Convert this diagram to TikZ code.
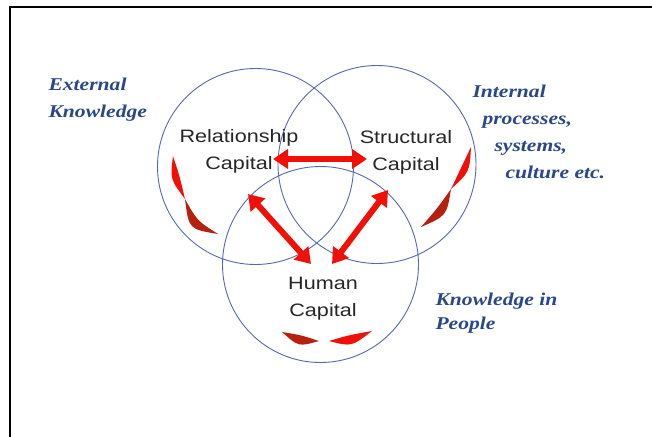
\documentclass[tikz,border=0pt]{standalone}
\usepackage{fontspec}
\usetikzlibrary{arrows.meta}
\newfontfamily\capfont[FakeStretch=1.2]{Liberation Sans}
\newfontfamily\notefont[FakeStretch=1.2]{Liberation Serif}
\definecolor{ringblue}{RGB}{86,104,176}
\definecolor{noteblue}{RGB}{40,72,138}
\definecolor{linkred}{RGB}{240,16,8}
\definecolor{swooshdark}{RGB}{182,32,14}
\begin{document}
\begin{tikzpicture}[x=1pt,y=-1pt,
capitalring/.style={draw=ringblue,line width=0.9pt},
capitallabel/.style={align=center,font=\capfont\fontsize{18}{27}\selectfont,text=black!85},
knowledgelabel/.style={anchor=west,align=left,font=\notefont\bfseries\itshape\fontsize{18}{27}\selectfont,text=noteblue},
linkarrow/.style={draw=linkred,line width=6pt,{Triangle[length=15pt,width=19pt]}-{Triangle[length=15pt,width=19pt]}},
swooshred/.style={fill=linkred},
swooshdark/.style={fill=swooshdark}]
\useasboundingbox (0,0) rectangle (652,436);
\draw[line width=2.5pt] (10,440) -- (10,7) -- (655,7);
\draw[capitalring] (255.5,166.5) circle[radius=98];
\draw[capitalring] (377,164.5) circle[radius=99];
\draw[capitalring] (320.5,264.5) circle[radius=98];
\node (relationship) at (239,151) [capitallabel] {Relationship\\Capital};
\node (structural) at (406,152) [capitallabel] {Structural\\Capital};
\node (human) at (323,299) [capitallabel] {Human\\Capital};
\node (external) at (45,100) [knowledgelabel] {External\\Knowledge};
\node (internal) at (469,132) [knowledgelabel] {Internal\\\hspace*{10pt}processes,\\\hspace*{22pt}systems,\\\hspace*{33pt}culture etc.};
\node (people) at (432,313) [knowledgelabel,font=\notefont\bfseries\itshape\fontsize{18}{24}\selectfont] {Knowledge in\\People};
\coordinate (rel-str) at (273,159);
\coordinate (str-rel) at (367,159);
\coordinate (rel-hum) at (248,194);
\coordinate (hum-rel) at (311,264);
\coordinate (str-hum) at (388,190);
\coordinate (hum-str) at (332,264);
\draw[linkarrow] (rel-str) -- (str-rel);
\draw[linkarrow] (rel-hum) -- (hum-rel);
\draw[linkarrow] (str-hum) -- (hum-str);
\coordinate (relwaist) at (185,199);
\coordinate (reltip) at (173,156);
\coordinate (reltail) at (218,234);
\fill[swooshred] (relwaist) .. controls (179.8,176.8) .. (reltip) .. controls (170.2,179.2) .. cycle;
\fill[swooshdark] (relwaist) .. controls (197.2,220.8) .. (reltail) .. controls (188.8,229.2) .. cycle;
\coordinate (strwaist) at (451,189);
\coordinate (strtip) at (471,147);
\coordinate (strtail) at (421,227);
\fill[swooshred] (strwaist) .. controls (469.5,172.1) .. (strtip) .. controls (460.5,167.9) .. cycle;
\fill[swooshdark] (strwaist) .. controls (446.7,215.7) .. (strtail) .. controls (437.3,208.3) .. cycle;
\coordinate (humleft) at (319,341);
\coordinate (humlefttip) at (282,332);
\coordinate (humright) at (329,341);
\coordinate (humrighttip) at (372,331);
\fill[swooshdark] (humleft) .. controls (301.5,335.2) .. (humlefttip) .. controls (298.5,346.8) .. cycle;
\fill[swooshred] (humright) .. controls (351.4,346.8) .. (humrighttip) .. controls (348.6,335.2) .. cycle;
\end{tikzpicture}
\end{document}
